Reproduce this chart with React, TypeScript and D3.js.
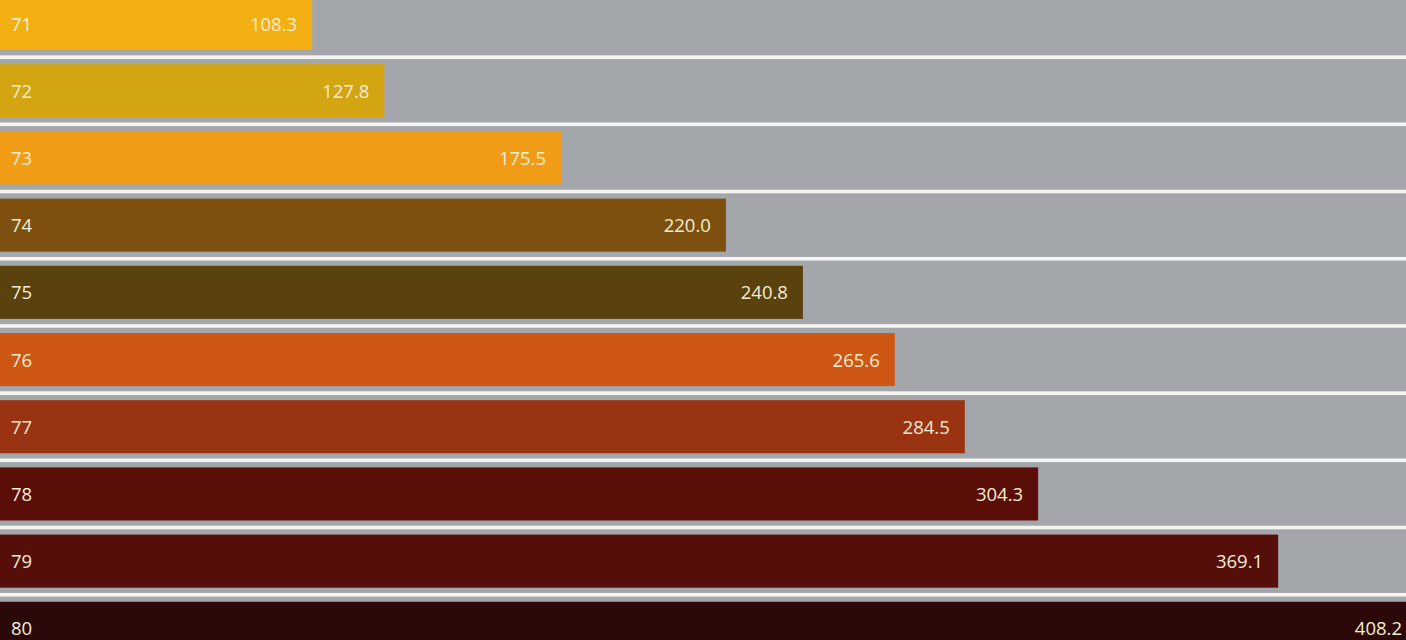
import React from "react";
import * as d3 from "d3";

const categories: string[] = ["71", "72", "73", "74", "75", "76", "77", "78", "79", "80"];
const values: number[] = [108.3, 127.8, 175.5, 220.0, 240.8, 265.6, 284.5, 304.3, 369.1, 408.2];
const valueLabels: string[] = ["108.3", "127.8", "175.5", "220.0", "240.8", "265.6", "284.5", "304.3", "369.1", "408.2"];
const barColors: string[] = [
  "#f2b012",
  "#d3a512",
  "#f19c16",
  "#7e500f",
  "#5a420f",
  "#cf5714",
  "#9a3312",
  "#5b0d08",
  "#560e0b",
  "#2b0908",
];

const W = 1406;
const H = 640;

export default function App() {
  const x = d3.scaleLinear().domain([0, 100]).range([-89, -89 + 370.4]);
  const y = d3
    .scaleBand<string>()
    .domain(categories)
    .range([-10.06, 661.94])
    .paddingInner(0.21)
    .paddingOuter(0.105);
  const bw = y.bandwidth();
  const gap = y.step() - bw;
  const textColor = "#f5edd4";
  const font = "'Open Sans', Lato, sans-serif";

  return (
    <svg
      width={W}
      height={H}
      style={{ position: "absolute", left: 0, top: 0, display: "block" }}
    >
      <rect x={0} y={0} width={W} height={H} fill="#a3a6ab" />
      {categories.slice(0, -1).map((c) => (
        <rect
          key={"l" + c}
          x={0}
          y={(y(c) as number) + bw + gap / 2 - 1.8}
          width={W}
          height={3.6}
          fill="#f6f6f1"
        />
      ))}
      {categories.map((c, i) => {
        const top = y(c) as number;
        const xEnd = x(values[i]);
        const cy = top + bw / 2;
        return (
          <g key={c}>
            <rect x={x(0)} y={top} width={xEnd - x(0)} height={bw} fill={barColors[i]} />
            <text
              x={11}
              y={cy + 0.5}
              dy="0.35em"
              fill={textColor}
              fontFamily={font}
              fontSize={18.5}
            >
              {c}
            </text>
            <text
              x={Math.min(xEnd - 15, W - 4)}
              y={cy + 0.5}
              dy="0.35em"
              textAnchor="end"
              fill={textColor}
              fontFamily={font}
              fontSize={18.5}
            >
              {valueLabels[i]}
            </text>
          </g>
        );
      })}
    </svg>
  );
}
